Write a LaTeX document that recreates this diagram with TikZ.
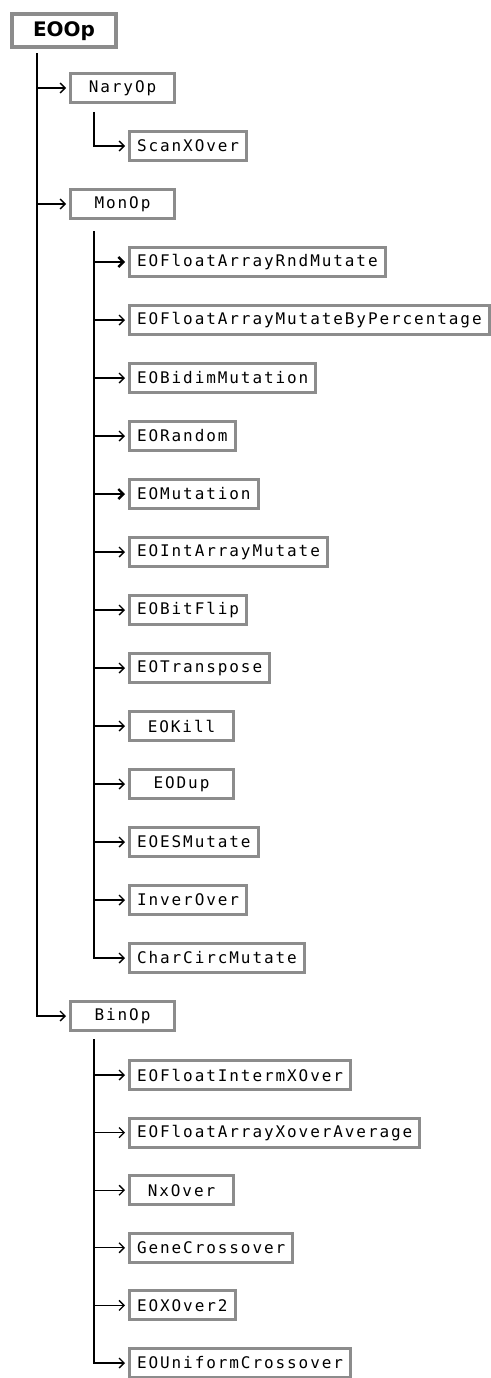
\documentclass[tikz,border=0pt]{standalone}
\usepackage{fontspec}
\usepackage{tikz}
\usetikzlibrary{arrows.meta,calc}
\newfontfamily\pixmono[LetterSpace=12]{DejaVu Sans Mono}
\newfontfamily\rootfont{DejaVu Sans}
\definecolor{FrameGray}{HTML}{8C8C8C}

\begin{document}
\begin{tikzpicture}[x=1pt,y=-1pt,
  box/.style={draw=FrameGray,line width=3pt,minimum width=104pt,minimum height=29pt,inner xsep=7.5pt,inner ysep=0pt,anchor=west,font=\pixmono\fontsize{16}{18}\selectfont},
  root/.style={draw=FrameGray,line width=4pt,minimum width=104pt,minimum height=33pt,anchor=west,font=\rootfont\bfseries\fontsize{20}{22}\selectfont},
  arr/.style={-{Straight Barb[length=5pt,width=10pt]},line width=1.3pt,shorten >=3pt},
  plain/.style={},
  heavy/.style={line width=2.4pt}]
\useasboundingbox (0,0) rectangle (490,1378);
% root and first level
\node[root] (EOOp) at (10,31) {EOOp};
\node[box] (NaryOp) at (69,88) {NaryOp};
\node[box] (ScanXOver) at (128,146) {ScanXOver};
\node[box] (MonOp) at (69,204) {MonOp};
\node[box] (BinOp) at (69,1016) {BinOp};
\coordinate (EOOp-t) at ($(EOOp.south west)+(27,4)$);
\coordinate (NaryOp-t) at ($(NaryOp.south west)+(25,8)$);
\coordinate (MonOp-t) at ($(MonOp.south west)+(25,11)$);
\coordinate (BinOp-t) at ($(BinOp.south west)+(25,7)$);
% unary operators
\foreach \n [count=\i from 0] in {EOFloatArrayRndMutate,EOFloatArrayMutateByPercentage,EOBidimMutation,EORandom,EOMutation,EOIntArrayMutate,EOBitFlip,EOTranspose,EOKill,EODup,EOESMutate,InverOver,CharCircMutate}
  \node[box] (\n) at (128,{262+58*\i}) {\n};
% binary operators
\foreach \n [count=\i from 0] in {EOFloatIntermXOver,EOFloatArrayXoverAverage,NxOver,GeneCrossover,EOXOver2,EOUniformCrossover}
  \node[box] (\n) at (128,{1075+57.6*\i}) {\n};
% connectors
\draw[arr] (EOOp-t |- NaryOp) -- (NaryOp);
\draw[arr] (EOOp-t |- MonOp) -- (MonOp);
\draw[arr] (EOOp-t) |- (BinOp);
\draw[arr] (NaryOp-t) |- (ScanXOver);
\foreach \n/\s in {EOFloatArrayRndMutate/heavy,EOFloatArrayMutateByPercentage/plain,EOBidimMutation/plain,EORandom/plain,EOMutation/heavy,EOIntArrayMutate/plain,EOBitFlip/plain,EOTranspose/plain,EOKill/plain,EODup/plain,EOESMutate/plain,InverOver/plain}
  \draw[arr,\s] (MonOp-t |- \n) -- (\n);
\draw[arr] (MonOp-t) |- (CharCircMutate);
\foreach \n in {EOFloatIntermXOver,EOFloatArrayXoverAverage,NxOver,GeneCrossover,EOXOver2}
  \draw[arr] (BinOp-t |- \n) -- (\n);
\draw[arr] (BinOp-t) |- (EOUniformCrossover);
\end{tikzpicture}
\end{document}
